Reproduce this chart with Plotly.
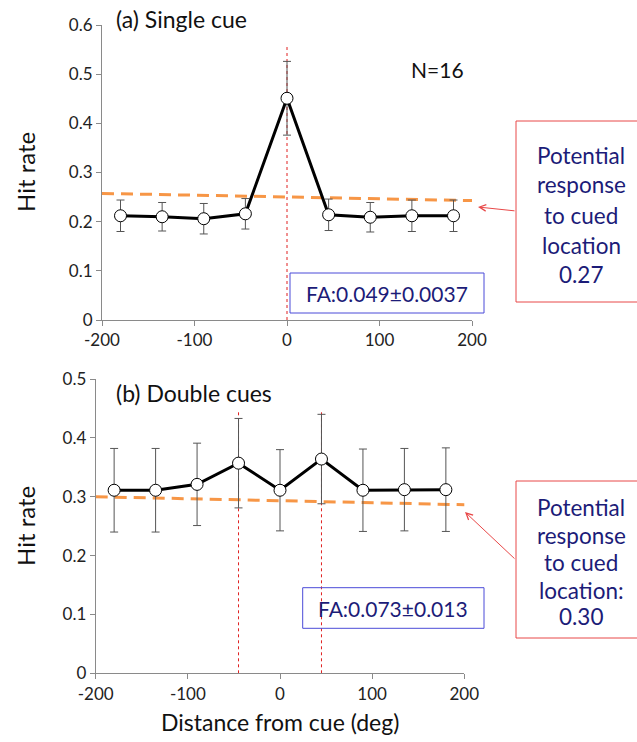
import plotly.graph_objects as go

# ---------------- data ----------------
x_deg = [-180, -135, -90, -45, 0, 45, 90, 135, 180]
single_hit = [0.212, 0.210, 0.206, 0.216, 0.451, 0.214, 0.209, 0.212, 0.212]
single_err = [0.032, 0.029, 0.031, 0.031, 0.075, 0.032, 0.030, 0.032, 0.032]
double_hit = [0.311, 0.311, 0.321, 0.357, 0.311, 0.364, 0.311, 0.312, 0.312]
double_err = [0.071, 0.071, 0.070, 0.076, 0.069, 0.076, 0.070, 0.070, 0.071]

single_fit_x = [-200, 210]
single_fit_y = [0.2575, 0.2425]
double_fit_x = [-200, 211]
double_fit_y = [0.300, 0.286]

single_cues = [0]
single_cue_top = 0.558
double_cues = [-45, 45]
double_cue_top = 0.445

x_ticks = [-200, -100, 0, 100, 200]
x_tick_labels = ["-200", "-100", "0", "100", "200"]

W, H = 637, 742
FONT = "Lato"
NAVY = "#1c1c78"
AXC = "#8a8a8a"


def px(x):
    return x / W


def py(y):
    return 1 - y / H


fig = go.Figure()

panels = [
    dict(x="x", y="y", hit=single_hit, err=single_err, fx=single_fit_x, fy=single_fit_y),
    dict(x="x2", y="y2", hit=double_hit, err=double_err, fx=double_fit_x, fy=double_fit_y),
]
for p in panels:
    fig.add_trace(go.Scatter(
        x=p["fx"], y=p["fy"], mode="lines", xaxis=p["x"], yaxis=p["y"],
        line=dict(color="#F79646", width=3, dash="12px,7px"), hoverinfo="skip"))
    fig.add_trace(go.Scatter(
        x=x_deg, y=p["hit"], mode="lines+markers", xaxis=p["x"], yaxis=p["y"],
        line=dict(color="black", width=3),
        marker=dict(size=12, color="white", line=dict(color="black", width=1)),
        error_y=dict(type="data", array=p["err"], visible=True, color="#555555",
                     thickness=1, width=4)))

# cue lines
for c in single_cues:
    fig.add_shape(type="line", xref="x", yref="y", x0=c, x1=c, y0=0, y1=single_cue_top,
                  line=dict(color="#e02020", width=1, dash="dot"), layer="below")
for c in double_cues:
    fig.add_shape(type="line", xref="x2", yref="y2", x0=c, x1=c, y0=0, y1=double_cue_top,
                  line=dict(color="#e02020", width=1, dash="dot"), layer="below")

axis_common = dict(showgrid=False, zeroline=False, showline=True, linecolor=AXC, linewidth=1,
                   ticks="outside", ticklen=5, tickcolor=AXC, automargin=False,
                   tickfont=dict(family=FONT, size=17, color="#222222"))

fig.update_layout(
    width=W, height=H, margin=dict(l=0, r=0, t=0, b=0),
    paper_bgcolor="white", plot_bgcolor="white", showlegend=False,
    font=dict(family=FONT),
    xaxis=dict(domain=[px(102), px(472)], range=[-200, 200], tickvals=x_ticks,
               ticktext=x_tick_labels, anchor="y", **axis_common),
    yaxis=dict(domain=[py(320), py(25)], range=[0, 0.6], dtick=0.1, tick0=0,
               anchor="x", **axis_common),
    xaxis2=dict(domain=[px(95.7), px(464.3)], range=[-200, 200], tickvals=x_ticks,
                ticktext=x_tick_labels, anchor="y2", **axis_common),
    yaxis2=dict(domain=[py(673.3), py(379)], range=[0, 0.5], dtick=0.1, tick0=0,
                anchor="x2", **axis_common),
)

ann = []


def text(x, y, s, size=20, color="#111111", xanchor="center", **kw):
    ann.append(dict(x=px(x), y=py(y), xref="paper", yref="paper", text=s, showarrow=False,
                    xanchor=xanchor, yanchor="middle",
                    font=dict(family=FONT, size=size, color=color), **kw))


# titles
text(114, 19, "(a) Single cue", size=23, xanchor="left")
text(114, 393, "(b) Double cues", size=23, xanchor="left")
text(437, 70, "N=16", size=21)
text(25, 172, "Hit rate", size=24, textangle=-90)
text(25, 526, "Hit rate", size=24, textangle=-90)
text(280, 722, "Distance from cue (deg)", size=23)

# FA boxes
fig.add_shape(type="rect", xref="paper", yref="paper", x0=px(290), x1=px(484), y0=py(313), y1=py(273),
              line=dict(color="#4b4bd8", width=1))
text(387, 293, "FA:0.049±0.0037", size=21, color=NAVY)
fig.add_shape(type="rect", xref="paper", yref="paper", x0=px(302.7), x1=px(484), y0=py(628.3), y1=py(587.7),
              line=dict(color="#4b4bd8", width=1))
text(393.3, 608, "FA:0.073±0.013", size=21, color=NAVY)

# potential response boxes
fig.add_shape(type="rect", xref="paper", yref="paper", x0=px(516), x1=px(660), y0=py(302), y1=py(121),
              line=dict(color="#e84848", width=1))
for s, yy in zip(["Potential", "response", "to cued", "location", "0.27"], [155, 185, 215, 245, 274]):
    text(581, yy, s, size=22.5, color=NAVY)
fig.add_shape(type="rect", xref="paper", yref="paper", x0=px(516), x1=px(660), y0=py(638), y1=py(481),
              line=dict(color="#e84848", width=1))
for s, yy in zip(["Potential", "response", "to cued", "location:", "0.30"], [507, 535, 562, 590, 616]):
    text(581, yy, s, size=22.5, color=NAVY)

# arrows (heads placed in paper coordinates, tails as pixel offsets)
ann.append(dict(x=px(478), y=py(207), xref="paper", yref="paper", ax=38, ay=4, text="",
                showarrow=True, arrowhead=5, arrowsize=1.3, arrowwidth=1, arrowcolor="#e84848"))
ann.append(dict(x=px(465), y=py(512), xref="paper", yref="paper", ax=51, ay=48, text="",
                showarrow=True, arrowhead=5, arrowsize=1.3, arrowwidth=1, arrowcolor="#e84848"))

fig.update_layout(annotations=ann)
fig.write_html("out.html", config={"displayModeBar": False},
               post_script="document.body.style.margin='0';document.body.style.overflow='hidden';")
